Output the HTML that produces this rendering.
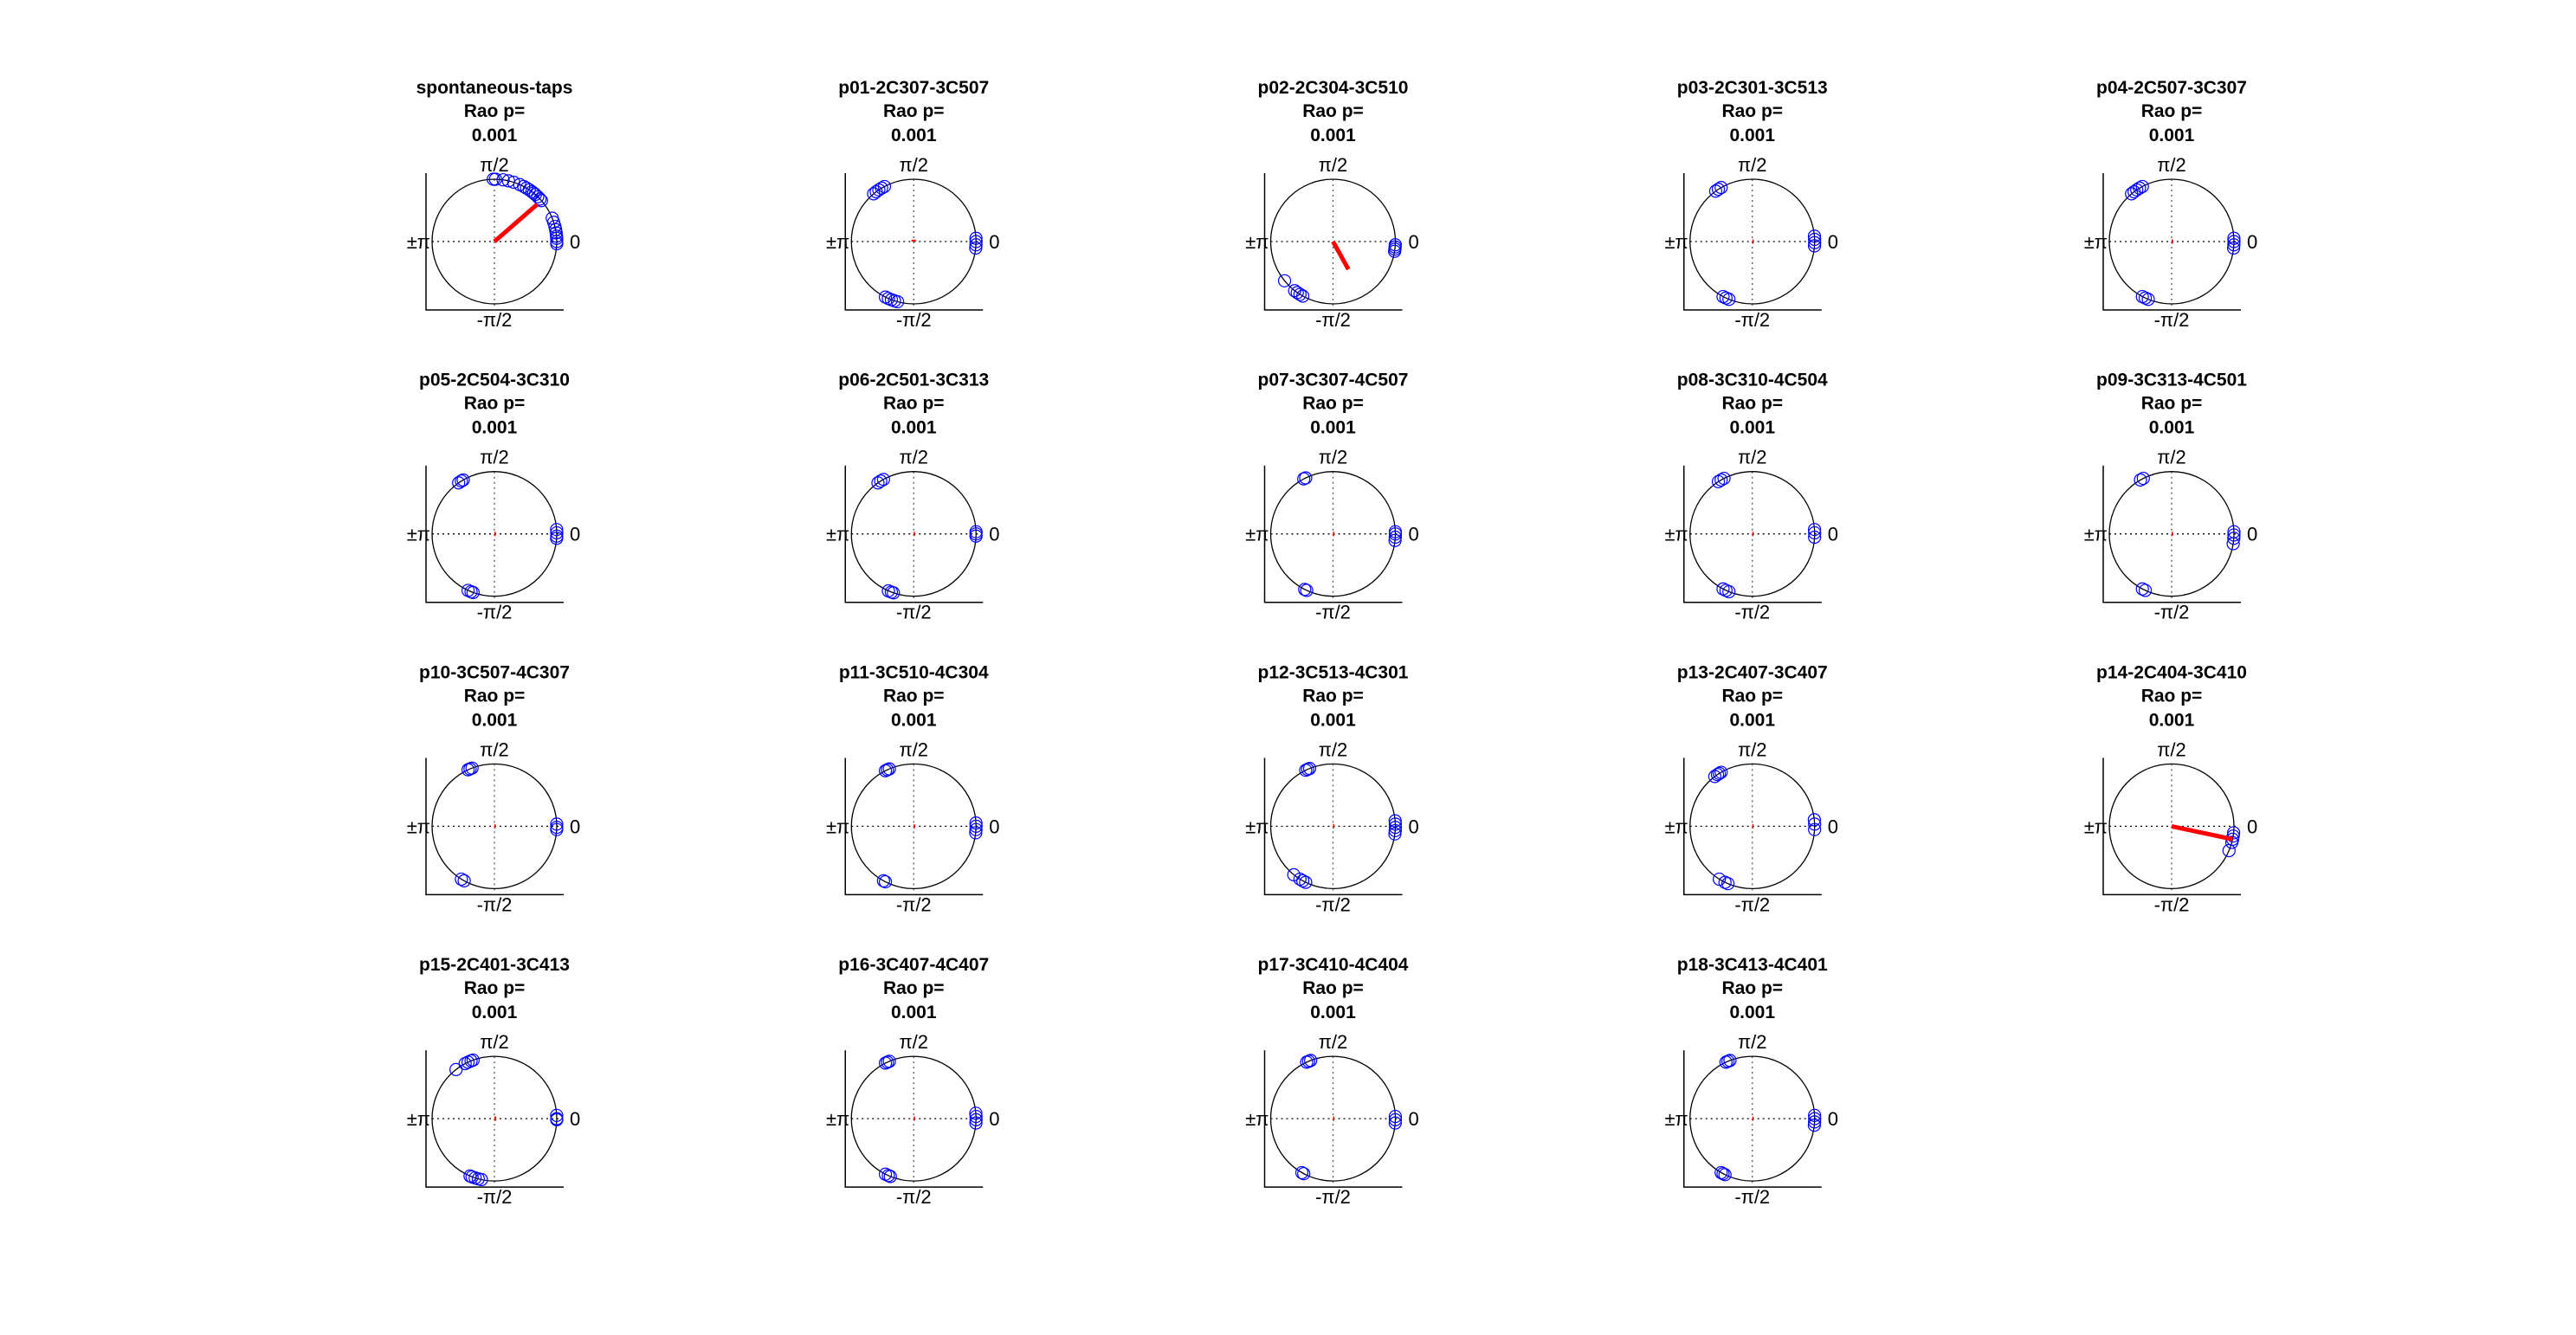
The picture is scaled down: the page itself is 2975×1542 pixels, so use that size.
<!DOCTYPE html>
<html><head><meta charset="utf-8">
<style>
html,body{margin:0;padding:0;background:#fff;}
svg{display:block;}
text{font-family:"Liberation Sans",sans-serif;fill:#000;}
.t{font-weight:bold;font-size:21px;}
.k{font-size:22px;}
</style></head>
<body>
<svg id="fig" width="2975" height="1542" viewBox="0 0 2975 1542" xmlns="http://www.w3.org/2000/svg"></svg>
<script>
const titles = ["spontaneous-taps","p01-2C307-3C507","p02-2C304-3C510","p03-2C301-3C513","p04-2C507-3C307",
"p05-2C504-3C310","p06-2C501-3C313","p07-3C307-4C507","p08-3C310-4C504","p09-3C313-4C501",
"p10-3C507-4C307","p11-3C510-4C304","p12-3C513-4C301","p13-2C407-3C407","p14-2C404-3C410",
"p15-2C401-3C413","p16-3C407-4C407","p17-3C410-4C404","p18-3C413-4C401"];
const pValues = ["0.001","0.001","0.001","0.001","0.001","0.001","0.001","0.001","0.001","0.001",
"0.001","0.001","0.001","0.001","0.001","0.001","0.001","0.001","0.001"];
// phase angles in degrees for each panel
const phases = [
 [91,89,82,77,72,66,62,59,56,53,51,49,46,43,41,22,18,14,11,8,5,3,0,-2],
 [118,121,124,127,130,3,0,-3,-6,-117,-114,-111,-108,-105],
 [-3,-5,-7,-9,-141,-128,-125,-122,-119],
 [120,123,126,5,2,-1,-4,-118,-115,-112],
 [118,121,124,127,130,3,0,-3,-6,-118,-115,-112],
 [120,122,125,4,1,-2,-4,-115,-112,-110],
 [119,122,125,2,0,-2,-114,-111,-109],
 [116,118,2,0,-3,-6,-117,-115],
 [117,120,123,4,1,-3,-118,-115,-112],
 [117,120,2,-1,-4,-9,-118,-115],
 [111,113,115,2,-1,-3,-122,-119],
 [113,115,117,3,0,-3,-6,-119,-117],
 [112,114,116,5,2,-1,-4,-7,-129,-122,-119,-116],
 [120,122,124,127,6,2,-3,-116,-122,-113],
 [-6,-9,-12,-15,-23],
 [110,112,115,118,128,3,0,-1,-113,-111,-108,-105,-102],
 [113,115,117,5,2,-1,-4,-117,-114,-112],
 [111,113,115,2,-1,-4,-120,-118],
 [111,113,115,3,0,-3,-6,-120,-118,-116]
];
// mean resultant vector: angle (deg) and length (fraction of radius)
const meanAngle = [41,90,-61,0,0,0,0,0,0,0,0,0,0,0,-12,0,0,0,0];
const meanLength = [0.91,0.03,0.51,0.02,0.02,0.02,0.02,0.02,0.02,0.02,0.02,0.02,0.02,0.02,1.0,0.03,0.02,0.02,0.02];

const NS="http://www.w3.org/2000/svg";
const svg=document.getElementById('fig');
const X0=571, DX=484.25, Y0=279, DY=337.7, R=72, A=79;
function el(tag,attrs,parent){const e=document.createElementNS(NS,tag);for(const k in attrs)e.setAttribute(k,attrs[k]);(parent||svg).appendChild(e);return e;}
function px(cx,deg,f){return cx+R*f*Math.cos(deg*Math.PI/180);}
function py(cy,deg,f){return cy-R*f*Math.sin(deg*Math.PI/180);}

titles.forEach((t,i)=>{
  const cx=X0+(i%5)*DX, cy=Y0+Math.floor(i/5)*DY;
  const g=el('g',{});
  
  
  const tt=el('text',{x:cx,y:cy-171,'text-anchor':'middle',class:'t'},g);tt.textContent=t;
  
  
  const t2=el('text',{x:cx,y:cy-144,'text-anchor':'middle',class:'t'},g);t2.textContent='Rao p=';
  
  
  const t3=el('text',{x:cx,y:cy-116,'text-anchor':'middle',class:'t'},g);t3.textContent=pValues[i];
  
  
  const ax=el('path',{d:`M${cx-A} ${cy-A}V${cy+A}H${cx+A+1}`,stroke:'#000','stroke-width':1.5,fill:'none'},g);
  
  
  el('line',{x1:cx-R,y1:cy,x2:cx+R+6,y2:cy,stroke:'#000','stroke-width':1.3,'stroke-dasharray':'2 4'},g);
  el('line',{x1:cx,y1:cy-R,x2:cx,y2:cy+A,stroke:'#555','stroke-width':1.3,'stroke-dasharray':'2 4'},g);
  const c=el('circle',{cx:cx,cy:cy,r:R,fill:'none',stroke:'#000','stroke-width':1.3},g);
  
  
  const l1=el('text',{x:cx,y:cy-81,'text-anchor':'middle',class:'k'},g);l1.textContent='π/2';
  
  
  const l2=el('text',{x:cx+87,y:cy+8,'text-anchor':'start',class:'k'},g);l2.textContent='0';
  
  
  const l3=el('text',{x:cx-74,y:cy+8,'text-anchor':'end',class:'k'},g);l3.textContent='±π';
  
  
  const l4=el('text',{x:cx,y:cy+98,'text-anchor':'middle',class:'k'},g);l4.textContent='-π/2';
  
  
  phases[i].forEach(d=>{
    const m=el('circle',{cx:px(cx,d,1),cy:py(cy,d,1),r:7,fill:'none',stroke:'#0000ff','stroke-width':1.2},g);
    
    
  });
  const f=meanLength[i], a=meanAngle[i];
  const v=el('line',{x1:cx,y1:cy,x2:px(cx,a,f),y2:py(cy,a,f),stroke:'#ff0000','stroke-width':5},g);
  
  
});
</script>
</body></html>
